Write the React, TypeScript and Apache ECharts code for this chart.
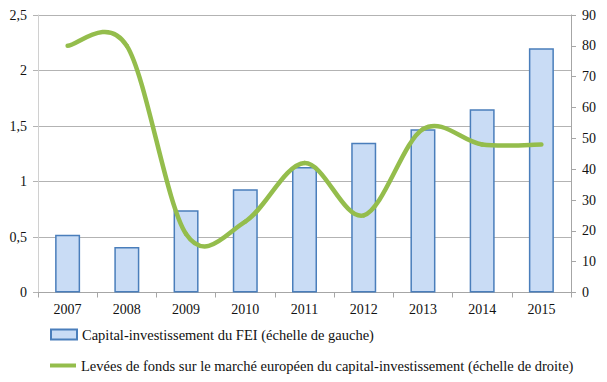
import React, { useEffect, useRef } from "react";
import * as echarts from "echarts";

const years = ["2007", "2008", "2009", "2010", "2011", "2012", "2013", "2014", "2015"];
const feiValues = [0.52, 0.41, 0.74, 0.93, 1.13, 1.35, 1.47, 1.65, 2.2];
const fundraising = [80, 80, 19, 23, 42, 25, 53, 48, 48];
const barName = "Capital-investissement du FEI (échelle de gauche)";
const lineName = "Levées de fonds sur le marché européen du capital-investissement (échelle de droite)";

const FONT = "Liberation Serif";
const GREEN = "#94bd4c";

export default function App() {
  const ref = useRef<HTMLDivElement>(null);
  useEffect(() => {
    if (!ref.current) return;
    const chart = echarts.init(ref.current, undefined, { renderer: "svg" });
    const n = fundraising.length;
    const clampIdx = (k: number) => Math.max(0, Math.min(n - 1, k));
    chart.setOption({
      animation: false,
      backgroundColor: "#ffffff",
      textStyle: { fontFamily: FONT },
      grid: { left: 38, right: 36, top: 15, bottom: 89.5, containLabel: false },
      legend: [
        {
          left: 50,
          top: 327,
          padding: 0,
          itemWidth: 26,
          itemHeight: 10,
          icon: "rect",
          textStyle: { fontFamily: FONT, fontSize: 14.5, color: "#111" },
          data: [barName],
        },
        {
          left: 50,
          top: 358,
          padding: 0,
          itemWidth: 26,
          itemHeight: 4,
          textStyle: { fontFamily: FONT, fontSize: 14.5, color: "#111" },
          data: [{ name: lineName, icon: "rect", itemStyle: { color: GREEN } }],
        },
      ],
      xAxis: {
        type: "category",
        data: years,
        boundaryGap: true,
        axisLine: { lineStyle: { color: "#a6a6a6", width: 1 } },
        axisTick: { show: true, length: 5, lineStyle: { color: "#a6a6a6" } },
        axisLabel: { fontFamily: FONT, fontSize: 14, color: "#111", margin: 10 },
      },
      yAxis: [
        {
          type: "value",
          min: 0,
          max: 2.5,
          interval: 0.5,
          axisLine: { show: true, lineStyle: { color: "#d0d0d0" } },
          axisTick: { show: true, length: 5, lineStyle: { color: "#b3b3b3" } },
          splitLine: { show: true, lineStyle: { color: "#b3b3b3", width: 1 } },
          axisLabel: {
            fontFamily: FONT,
            fontSize: 14,
            color: "#111",
            margin: 11,
            formatter: (v: number) => String(v).replace(".", ","),
          },
        },
        {
          type: "value",
          min: 0,
          max: 90,
          interval: 10,
          position: "right",
          axisLine: { show: true, lineStyle: { color: "#a6a6a6" } },
          axisTick: { show: true, length: 5, lineStyle: { color: "#a6a6a6" } },
          splitLine: { show: false },
          axisLabel: { fontFamily: FONT, fontSize: 14, color: "#111", margin: 11 },
        },
      ],
      series: [
        {
          name: barName,
          type: "bar",
          yAxisIndex: 0,
          z: 2,
          data: feiValues,
          barWidth: 25,
          itemStyle: { color: "#c9dcf5", borderColor: "#4a7ebb", borderWidth: 1.5 },
        },
        {
          name: lineName,
          type: "custom",
          coordinateSystem: "cartesian2d",
          yAxisIndex: 1,
          z: 10,
          itemStyle: { color: GREEN },
          encode: { x: 0, y: 1 },
          data: fundraising.map((v, i) => [i, v]),
          renderItem: (params: any, api: any) => {
            const i = params.dataIndex;
            if (i >= n - 1) return null;
            const pt = (k: number) => {
              const kk = clampIdx(k);
              return api.coord([kk, fundraising[kk]]);
            };
            const p0 = pt(i - 1);
            const p1 = pt(i);
            const p2 = pt(i + 1);
            const p3 = pt(i + 2);
            const t = 1 / 6;
            return {
              type: "bezierCurve",
              z2: 10,
              shape: {
                x1: p1[0],
                y1: p1[1],
                cpx1: p1[0] + (p2[0] - p0[0]) * t,
                cpy1: p1[1] + (p2[1] - p0[1]) * t,
                cpx2: p2[0] - (p3[0] - p1[0]) * t,
                cpy2: p2[1] - (p3[1] - p1[1]) * t,
                x2: p2[0],
                y2: p2[1],
              },
              style: { stroke: GREEN, lineWidth: 4.5, fill: null, lineCap: "round" },
              silent: true,
            };
          },
        },
      ],
    });
    return () => chart.dispose();
  }, []);
  return (
    <div
      ref={ref}
      style={{ position: "fixed", left: 0, top: 0, width: 607, height: 382 }}
    />
  );
}
